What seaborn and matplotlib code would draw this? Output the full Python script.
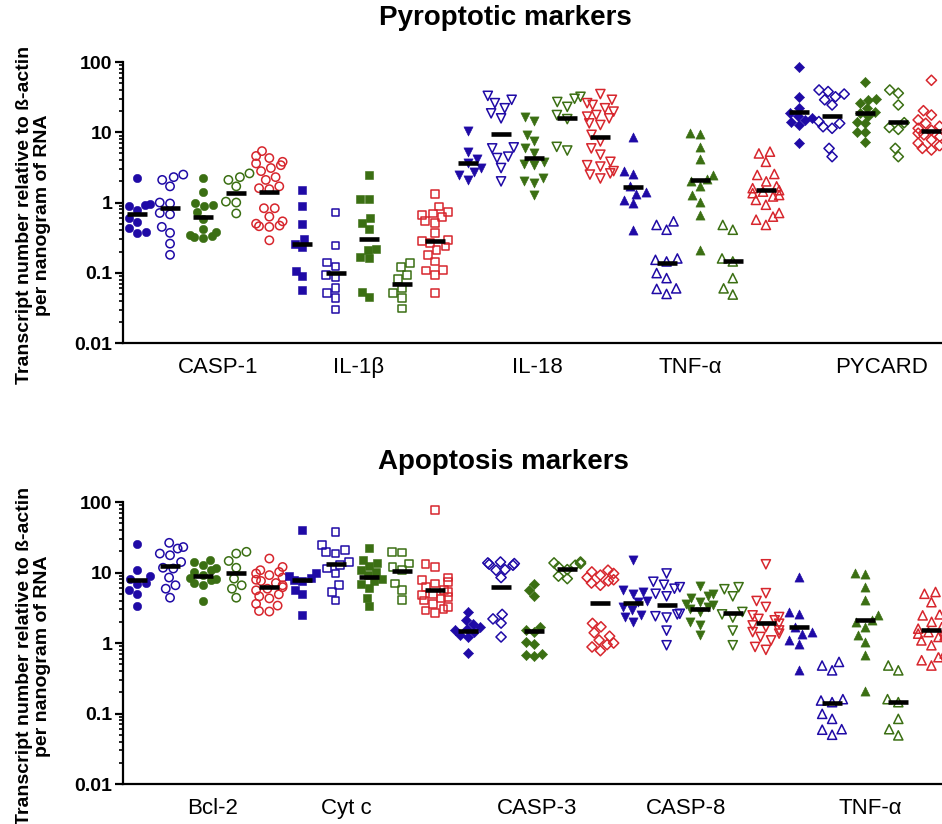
"""
Transcript levels of pyroptotic and apoptotic markers (scatter + median bars).
"""

import numpy as np
import matplotlib
matplotlib.use("Agg")
import matplotlib.pyplot as plt
from matplotlib.ticker import LogLocator, NullFormatter
import seaborn as sns

BLUE = "#1f0aa6"
GREEN = "#3b6f13"
RED = "#d7262d"

# five groups per gene: (colour, filled?)
GROUPS = [(BLUE, True), (BLUE, False), (GREEN, True), (GREEN, False), (RED, False)]

# ---- Pyroptotic markers ----
CASP1 = [
    [2.25, 0.95, 0.92, 0.9, 0.78, 0.6, 0.52, 0.43, 0.38, 0.37],
    [2.5, 2.3, 2.1, 1.7, 1.0, 0.97, 0.71, 0.68, 0.45, 0.37, 0.26, 0.18],
    [2.25, 1.4, 1.0, 0.92, 0.9, 0.73, 0.58, 0.42, 0.38, 0.35, 0.33, 0.32, 0.31],
    [2.6, 2.3, 2.1, 1.7, 1.03, 1.0, 0.7],
    [5.4, 4.6, 4.3, 3.8, 3.6, 3.4, 3.1, 2.8, 2.3, 2.1, 1.7, 1.6, 1.55,
     0.83, 0.83, 0.63, 0.54, 0.5, 0.47, 0.46, 0.45, 0.29],
]
CASP1_MED = [0.69, 0.83, 0.62, 1.36, 1.43]

IL1B = [
    [1.5, 0.9, 0.5, 0.3, 0.26, 0.23, 0.107, 0.09, 0.057],
    [0.72, 0.245, 0.14, 0.123, 0.094, 0.087, 0.061, 0.051, 0.044, 0.03],
    [2.45, 1.13, 1.13, 0.6, 0.51, 0.42, 0.22, 0.21, 0.17, 0.16, 0.054, 0.045],
    [0.137, 0.12, 0.094, 0.081, 0.061, 0.051, 0.044, 0.031],
    [1.33, 0.88, 0.74, 0.7, 0.67, 0.63, 0.54, 0.51, 0.37, 0.29, 0.28, 0.265,
     0.236, 0.21, 0.18, 0.145, 0.11, 0.108, 0.094, 0.051],
]
IL1B_MED = [0.26, 0.099, 0.3, 0.07, 0.285]

IL18 = [
    [10.6, 5.3, 4.2, 3.7, 3.1, 2.7, 2.5, 2.1],
    [33, 29, 26, 22, 18.6, 15.8, 6.1, 5.9, 4.5, 4.3, 3.1, 2.0],
    [16.7, 14.7, 9.2, 7.4, 5.9, 5.0, 3.8, 3.55, 3.4, 2.2, 2.0, 1.9, 1.28],
    [32, 30, 27, 23, 17.6, 15.4, 6.2, 5.5],
    [35, 29, 26, 24.5, 22, 19.7, 17.6, 16.7, 15.8, 13.4, 12.7, 9.2, 7.4, 5.9,
     4.8, 3.8, 3.4, 3.25, 2.8, 2.6, 2.5, 2.2],
]
IL18_MED = [3.62, 9.35, 4.27, 16.1, 8.5]

TNFA = [
    [8.7, 2.8, 2.55, 1.7, 1.43, 1.33, 1.09, 0.98, 0.41],
    [0.54, 0.48, 0.41, 0.16, 0.153, 0.145, 0.099, 0.084, 0.06, 0.059, 0.05],
    [9.9, 9.4, 6.2, 4.1, 2.5, 2.15, 2.0, 1.7, 1.28, 1.03, 0.67, 0.21],
    [0.48, 0.41, 0.16, 0.145, 0.084, 0.06, 0.049],
    [5.3, 5.0, 3.8, 2.55, 2.47, 2.0, 1.7, 1.6, 1.5, 1.43, 1.36, 1.28, 1.22,
     1.09, 0.93, 0.71, 0.63, 0.57, 0.48],
]
TNFA_MED = [1.69, 0.14, 2.1, 0.145, 1.51]

PYCARD = [
    [85, 32, 22, 18.6, 17, 15.8, 15, 14, 12.7, 7.0],
    [40, 38, 35, 32, 29, 24.5, 14.2, 13.4, 12, 11.4, 5.9, 4.5],
    [52, 30, 29, 26, 22, 19.7, 18.6, 17, 14.2, 13.4, 10.2, 10, 7.3],
    [40, 36, 24.5, 13.7, 11.7, 11, 5.9, 4.5],
    [55, 20.3, 17.6, 15, 13.4, 12.2, 11.4, 10.7, 10.2, 9.7, 9.2, 8.7, 7.8,
     7.0, 6.4, 5.9, 5.6],
]
PYCARD_MED = [19.7, 17.1, 18.6, 14.2, 10.5]

# ---- Apoptosis markers ----
BCL2 = [
    [25.8, 10.7, 8.8, 8.2, 7.1, 6.8, 5.6, 4.9, 3.3],
    [26.4, 23, 21.9, 18.6, 17.6, 14.1, 11.7, 11.4, 8.5, 6.6, 5.9, 4.4],
    [15.3, 14.1, 12.7, 11.5, 10.8, 10.2, 9.2, 8.5, 8.0, 7.8, 7.1, 6.6, 4.0],
    [19.7, 18.6, 14.6, 11.7, 8.2, 6.6, 5.9, 4.4],
    [15.8, 12, 10.8, 10.2, 9.7, 9.2, 8.5, 7.9, 7.6, 7.1, 6.6, 6.2, 5.9, 5.6,
     4.9, 4.6, 4.3, 3.6, 3.4, 2.85, 2.8],
]
BCL2_MED = [7.8, 12.3, 8.9, 9.9, 6.25]

CYTC = [
    [40.7, 9.7, 8.8, 8.4, 7.9, 7.6, 5.7, 5.0, 2.47],
    [37.8, 24.4, 20.7, 19.7, 18.6, 14.2, 12.7, 11.4, 9.7, 6.6, 5.3, 4.0],
    [22.6, 15, 13.7, 12.3, 11, 10.2, 9.2, 8.2, 7.6, 6.8, 6.1, 4.3, 3.3],
    [19.6, 19.2, 13.4, 12, 10.8, 7.0, 5.6, 4.1],
    [78, 13.1, 12, 8.5, 7.8, 7.4, 7.0, 6.2, 5.7, 5.3, 5.0, 4.75, 4.5, 4.27,
     4.0, 3.6, 3.25, 3.07, 2.9, 2.67],
]
CYTC_MED = [7.8, 13.1, 8.7, 10.6, 5.7]

CASP3 = [
    [2.76, 2.1, 1.88, 1.69, 1.6, 1.51, 1.43, 1.28, 1.22, 0.72],
    [14.1, 13.7, 13.4, 13.1, 12.7, 11, 10.8, 8.5, 2.55, 2.2, 1.92, 1.22],
    [6.8, 5.6, 4.6, 1.69, 1.55, 1.43, 1.03, 0.98, 0.7, 0.68, 0.65],
    [14.1, 13.7, 13.4, 12.7, 12.0, 11, 8.9, 8.2],
    [10.8, 10.2, 9.7, 9.2, 8.5, 7.9, 7.6, 7.1, 6.6,
     1.9, 1.7, 1.4, 1.25, 1.1, 1.0, 0.95, 0.88, 0.78],
]
CASP3_MED = [1.48, 6.25, 1.47, 11.4, 3.74]

CASP8 = [
    [15.3, 5.7, 5.3, 5.0, 4.0, 3.8, 3.2, 2.9, 2.47, 2.34, 2.0],
    [9.7, 7.4, 6.7, 6.2, 5.9, 5.0, 4.6, 2.6, 2.55, 2.4, 2.3, 1.5, 0.93],
    [6.4, 5.0, 4.6, 4.4, 3.8, 3.6, 3.43, 3.25, 3.07, 2.76, 2.0, 1.78, 1.28],
    [6.2, 5.8, 4.6, 2.76, 2.55, 2.3, 1.5, 0.93],
    [13.1, 5.1, 3.95, 3.25, 2.47, 2.34, 2.2, 2.1, 1.88, 1.78, 1.69, 1.51,
     1.43, 1.36, 1.22, 1.09, 0.88, 0.8],
]
CASP8_MED = [3.74, 3.43, 3.0, 2.7, 1.92]

PYRO_GENES = [("CASP-1", "o", CASP1, CASP1_MED),
              ("IL-1β", "s", IL1B, IL1B_MED),
              ("IL-18", "v", IL18, IL18_MED),
              ("TNF-α", "^", TNFA, TNFA_MED),
              ("PYCARD", "D", PYCARD, PYCARD_MED)]
APOP_GENES = [("Bcl-2", "o", BCL2, BCL2_MED),
              ("Cyt c", "s", CYTC, CYTC_MED),
              ("CASP-3", "D", CASP3, CASP3_MED),
              ("CASP-8", "v", CASP8, CASP8_MED),
              ("TNF-α", "^", TNFA, TNFA_MED)]

# where the gene names sit (in column units)
PYRO_LABEL_POS = [2.45, 6.7, 12.1, 16.7, 22.5]
APOP_LABEL_POS = [2.27, 6.34, 12.08, 16.6, 22.15]

MARKER_SIZE = {"o": 6.0, "s": 5.6, "v": 6.6, "^": 6.6, "D": 5.2}
YLABEL = "Transcript number relative to ß-actin\nper nanogram of RNA"


def draw_panel(ax, genes, label_pos):
    ax.set_yscale("log")
    ax.set_ylim(0.01, 100)
    ax.set_xlim(-0.42, 24.32)

    pos = 0
    med_x, med_y = [], []
    for name, marker, values, medians in genes:
        for (color, filled), vals, med in zip(GROUPS, values, medians):
            extra = {} if filled else {"facecolor": "none"}
            sns.swarmplot(x=np.full(len(vals), float(pos)), y=vals, orient="x",
                          native_scale=True, marker=marker, size=MARKER_SIZE[marker],
                          color=color, edgecolor=color,
                          linewidth=0.4 if filled else 1.1,
                          warn_thresh=1, ax=ax, **extra)
            med_x.append(pos)
            med_y.append(med)
            pos += 1

    sns.scatterplot(x=med_x, y=med_y, marker="_", s=190, linewidth=3.3,
                    color="black", zorder=5, ax=ax)

    ax.set_xlim(-0.42, 24.32)
    ax.set_ylim(0.01, 100)
    ax.spines[["top", "right"]].set_visible(False)
    for side in ["left", "bottom"]:
        ax.spines[side].set_linewidth(1.6)

    ax.set_yticks([0.01, 0.1, 1, 10, 100])
    ax.set_yticklabels(["0.01", "0.1", "1", "10", "100"],
                       fontsize=14, fontweight="bold")
    ax.yaxis.set_minor_locator(LogLocator(base=10, subs=np.arange(2, 10)))
    ax.yaxis.set_minor_formatter(NullFormatter())
    ax.tick_params(axis="y", which="major", length=5.5, width=1.6, pad=2)
    ax.tick_params(axis="y", which="minor", length=3.2, width=1.2)

    ax.set_xticks(label_pos)
    ax.set_xticklabels([g[0] for g in genes], fontsize=16)
    ax.tick_params(axis="x", length=0, pad=10)

    ax.set_xlabel("")
    ax.set_ylabel(YLABEL, fontsize=14, fontweight="bold", linespacing=1.05)
    ax.yaxis.set_label_coords(-0.088, 0.455)


plt.rcParams["font.family"] = ["Liberation Sans", "DejaVu Sans"]

fig = plt.figure(figsize=(9.42, 8.24), dpi=100)
ax_top = fig.add_axes([0.1306, 0.5837, 0.8694, 0.3410])
ax_bot = fig.add_axes([0.1306, 0.0485, 0.8694, 0.3422])

draw_panel(ax_top, PYRO_GENES, PYRO_LABEL_POS)
draw_panel(ax_bot, APOP_GENES, APOP_LABEL_POS)

fig.text(505 / 942, 1 - 18 / 824, "Pyroptotic markers", ha="center", va="center",
         fontsize=20, fontweight="bold")
fig.text(503 / 942, 1 - 462 / 824, "Apoptosis markers", ha="center", va="center",
         fontsize=20, fontweight="bold")

fig.savefig("out.png", dpi=100)
plt.close(fig)
